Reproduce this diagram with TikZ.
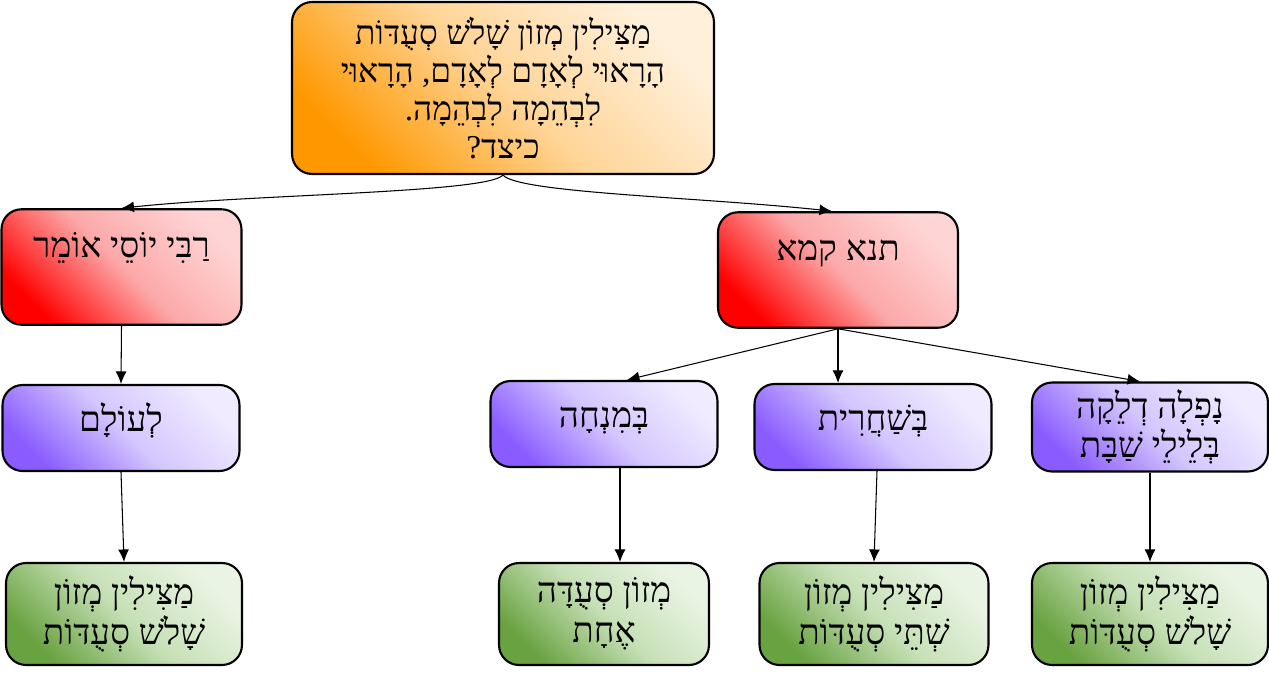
\documentclass[tikz,border=0pt]{standalone}
\usepackage{fontspec}
\TeXXeTstate=1
\newfontfamily\hebfont[Script=Hebrew]{Liberation Serif}
\usetikzlibrary{arrows.meta}
\definecolor{orangedark}{RGB}{255,152,0}
\definecolor{orangemid}{RGB}{255,212,150}
\definecolor{orangelight}{RGB}{255,240,218}
\definecolor{reddark}{RGB}{255,0,0}
\definecolor{redmid}{RGB}{252,168,168}
\definecolor{redlight}{RGB}{255,212,212}
\definecolor{violetdark}{RGB}{138,92,255}
\definecolor{violetmid}{RGB}{212,198,255}
\definecolor{violetlight}{RGB}{240,235,255}
\definecolor{greendark}{RGB}{105,162,65}
\definecolor{greenmid}{RGB}{198,224,182}
\definecolor{greenlight}{RGB}{234,244,228}
\newcommand{\rtl}[1]{\beginR #1\endR}
\tikzset{
  box/.style      = {draw=black, line width=1.2pt, rounded corners=0.4cm,
                     align=center, inner sep=0pt,
                     font=\hebfont\fontsize{20}{22}\selectfont},
  mishnabox/.style = {box, top color=orangelight, bottom color=orangedark,
                     middle color=orangemid, shading angle=-45,
                     minimum width=8.44cm, minimum height=3.44cm,
                     font=\hebfont\fontsize{19}{21.8}\selectfont},
  opinion/.style  = {box, top color=redlight, bottom color=reddark,
                     middle color=redmid, shading angle=-45,
                     minimum width=4.8cm, text height=0.97cm, text depth=1.34cm},
  timebox/.style  = {box, top color=violetlight, bottom color=violetdark,
                     middle color=violetmid, shading angle=-45,
                     minimum width=4.74cm, text height=0.92cm, text depth=0.8cm},
  timebox2/.style = {box, top color=violetlight, bottom color=violetdark,
                     middle color=violetmid, shading angle=-45,
                     minimum width=4.72cm, minimum height=1.78cm},
  rulebox/.style  = {box, top color=greenlight, bottom color=greendark,
                     middle color=greenmid, shading angle=-45,
                     minimum width=4.72cm, minimum height=2.04cm,
                     font=\hebfont\fontsize{20}{22.8}\selectfont},
  arr/.style      = {-{Latex[length=2.5mm,width=2.2mm]}, line width=0.6pt}
}

\begin{document}
\begin{tikzpicture}[x=0.02cm, y=-0.02cm]
	\useasboundingbox (0,0) rectangle (1269,676);
	\node[mishnabox] (mishna) at (503,88)
		{\rtl{מַצִּילִין מְזוֹן שָׁלֹשׁ סְעֻדּוֹת}\\
		 \rtl{הָרָאוּי לְאָדָם לְאָדָם, הָרָאוּי}\\
		 \rtl{לִבְהֵמָה לִבְהֵמָה.}\\
		 \rtl{כיצד?}};
	\node[opinion] (yose) at (121.5,267) {\rtl{רַבִּי יוֹסֵי אוֹמֵר}};
	\node[opinion] (tanna) at (838,270) {\rtl{תנא קמא}};
	\node[timebox] (leolam) at (121,428) {\rtl{לְעוֹלָם}};
	\node[timebox, minimum width=4.54cm] (mincha) at (604,424) {\rtl{בְּמִנְחָה}};
	\node[timebox] (shacharit) at (873,427) {\rtl{בְּשַׁחֲרִית}};
	\node[timebox2] (nafla) at (1150,427)
		{\rtl{נָפְלָה דְלֵקָה}\\ \rtl{בְּלֵילֵי שַׁבָּת}};
	\node[rulebox] (shalosh1) at (124,614)
		{\rtl{מַצִּילִין מְזוֹן}\\ \rtl{שָׁלֹשׁ סְעֻדּוֹת}};
	\node[rulebox, minimum width=4.2cm] (achat) at (604,614)
		{\rtl{מְזוֹן סְעֻדָּה}\\ \rtl{אֶחָת}};
	\node[rulebox, minimum width=4.58cm] (shtei) at (874,614)
		{\rtl{מַצִּילִין מְזוֹן}\\ \rtl{שְׁתֵּי סְעֻדּוֹת}};
	\node[rulebox] (shalosh2) at (1150,614)
		{\rtl{מַצִּילִין מְזוֹן}\\ \rtl{שָׁלֹשׁ סְעֻדּוֹת}};
	\draw[arr] (mishna.south) .. controls +(-15,18) and +(130,-14) .. (yose.north);
	\draw[arr] (mishna.south) .. controls +(15,18) and +(-130,-14) .. ([xshift=-0.12cm]tanna.north);
	\draw[arr] (yose.south) -- (leolam.north);
	\draw[arr] (leolam.south) -- (shalosh1.north);
	\draw[arr] (tanna.south) -- ([xshift=0.46cm]mincha.north);
	\draw[arr] (tanna.south) -- (tanna.south |- shacharit.north);
	\draw[arr] (tanna.south) -- ([xshift=-0.2cm]nafla.north);
	\draw[arr] ([xshift=0.32cm]mincha.south) -- ([xshift=0.32cm]achat.north);
	\draw[arr] ([xshift=0.08cm]shacharit.south) -- (shtei.north);
	\draw[arr] (nafla.south) -- (shalosh2.north);
\end{tikzpicture}
\end{document}
